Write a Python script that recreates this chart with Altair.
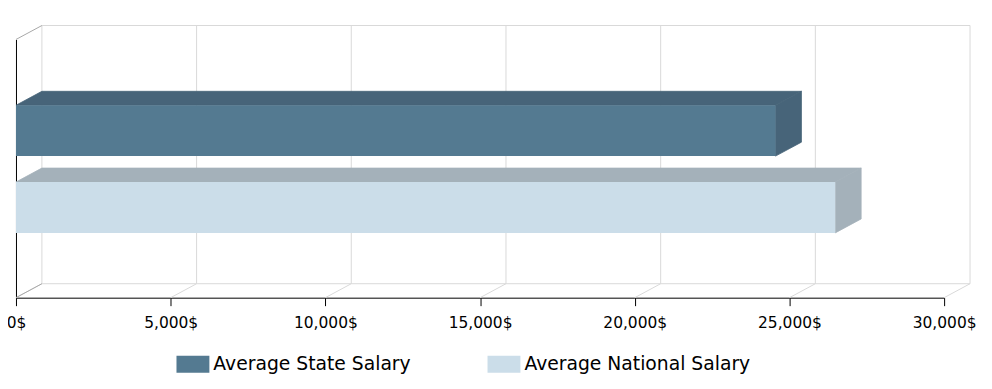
import altair as alt
import pandas as pd

# ---- data ----
series = ["Average State Salary", "Average National Salary"]
salaries = [24550, 26480]
front_colors = ["#547a91", "#cbdde9"]
shade_colors = ["#476479", "#a4b1ba"]
tick_values = [0, 5000, 10000, 15000, 20000, 25000, 30000]

# ---- geometry constants (layout) ----
W, H = 931, 259            # front plane size in px
X_MAX = 30000
SLOT = 77.0                # px per category slot (y unit)
DX_PX, DY_PX = 26, 14      # 3D depth offset in px
DEPTH_X = DX_PX * X_MAX / W
DEPTH_Y = DY_PX / SLOT
Y_MAX = H / SLOT
BAR_BASE = 65 / SLOT
BAR_H = 51 / SLOT

n = len(series)
front_rows, top_rows, side_rows = [], [], []
for i, (s, v, sh) in enumerate(zip(series, salaries, shade_colors)):
    b = BAR_BASE + (n - 1 - i)
    t = b + BAR_H
    front_rows.append({"series": s, "x": 0, "x2": v, "y": b, "y2": t})
    top_rows.append({"series": s, "shade": sh, "y": t, "x": v, "x2": 0})
    top_rows.append({"series": s, "shade": sh, "y": t + DEPTH_Y, "x": v + DEPTH_X, "x2": DEPTH_X})
    side_rows.append({"series": s, "shade": sh, "x": v, "y": b, "y2": t})
    side_rows.append({"series": s, "shade": sh, "x": v + DEPTH_X, "y": b + DEPTH_Y, "y2": t + DEPTH_Y})

front_df = pd.DataFrame(front_rows)
top_df = pd.DataFrame(top_rows)
side_df = pd.DataFrame(side_rows)

grid_df = pd.DataFrame({"x": [t + DEPTH_X for t in tick_values],
                        "y": DEPTH_Y, "y2": Y_MAX + DEPTH_Y})
floor_df = pd.DataFrame({"x": tick_values, "x2": [t + DEPTH_X for t in tick_values],
                         "y": 0.0, "y2": DEPTH_Y})
wall_h_df = pd.DataFrame({"x": [DEPTH_X, DEPTH_X], "x2": [X_MAX + DEPTH_X] * 2,
                          "y": [DEPTH_Y, Y_MAX + DEPTH_Y]})
left_diag_df = pd.DataFrame({"x": [0, 0], "x2": [DEPTH_X, DEPTH_X],
                             "y": [0.0, Y_MAX], "y2": [DEPTH_Y, Y_MAX + DEPTH_Y]})

xs = alt.Scale(domain=[0, X_MAX], nice=False)
ys = alt.Scale(domain=[0, Y_MAX], nice=False, zero=True)
X_AXIS = alt.Axis(values=tick_values, title=None, grid=False,
                  labelExpr="format(datum.value, ',') + '$'",
                  domainColor="#000000", tickColor="#000000", tickSize=8,
                  labelPadding=10, labelFont="DejaVu Sans", labelFontSize=15.5,
                  labelColor="#000000", labelFlush=False)
Y_AXIS = alt.Axis(title=None, grid=False, labels=False, ticks=False,
                  domainColor="#000000")

def X(f="x"):
    return alt.X(f"{f}:Q", scale=xs, axis=X_AXIS)

def Y(f="y"):
    return alt.Y(f"{f}:Q", scale=ys, axis=Y_AXIS)

grid = alt.Chart(grid_df).mark_rule(color="#d9d9d9", strokeWidth=1).encode(
    x=X(), y=Y(), y2="y2:Q")
wall_h = alt.Chart(wall_h_df).mark_rule(color="#d9d9d9", strokeWidth=1).encode(
    x=X(), x2="x2:Q", y=Y())
floor = alt.Chart(floor_df).mark_rule(color="#d9d9d9", strokeWidth=1).encode(
    x=X(), x2="x2:Q", y=Y(), y2="y2:Q")
left_diag = alt.Chart(left_diag_df).mark_rule(color="#a8a8a8", strokeWidth=1).encode(
    x=X(), x2="x2:Q", y=Y(), y2="y2:Q")

front = alt.Chart(front_df).mark_rect().encode(
    x=X(), x2="x2:Q", y=Y(), y2="y2:Q",
    color=alt.Color("series:N", scale=alt.Scale(domain=series, range=front_colors),
                    legend=alt.Legend(title=None, orient="none", legendX=161, legendY=309,
                                      direction="horizontal", columns=2,
                                      symbolType="M-1,-0.515L1,-0.515L1,0.515L-1,0.515Z",
                                      symbolSize=1089, symbolStrokeWidth=0, symbolOpacity=1,
                                      labelFont="DejaVu Sans", labelFontSize=18.8,
                                      labelColor="#000000", labelOffset=4,
                                      columnPadding=77, padding=0, labelLimit=400)))

top = alt.Chart(top_df).mark_area(orient="horizontal", strokeWidth=0.8).encode(
    y=Y(), x=X(), x2="x2:Q", detail="series:N",
    color=alt.Color("shade:N", scale=None),
    stroke=alt.Color("shade:N", scale=None))

side = alt.Chart(side_df).mark_area(orient="vertical", strokeWidth=0.8).encode(
    x=X(), y=Y(), y2="y2:Q", detail="series:N",
    color=alt.Color("shade:N", scale=None),
    stroke=alt.Color("shade:N", scale=None))

chart = alt.layer(grid, wall_h, floor, left_diag, top, side, front).resolve_scale(
    color="independent", stroke="independent"
).properties(
    width=W, height=H,
    padding={"left": 8, "top": 31, "right": 40, "bottom": 82},
    autosize=alt.AutoSizeParams(type="none"),
    background="white",
).configure_view(stroke=None)

chart.save("out.html", embed_options={"renderer": "svg", "actions": False})
